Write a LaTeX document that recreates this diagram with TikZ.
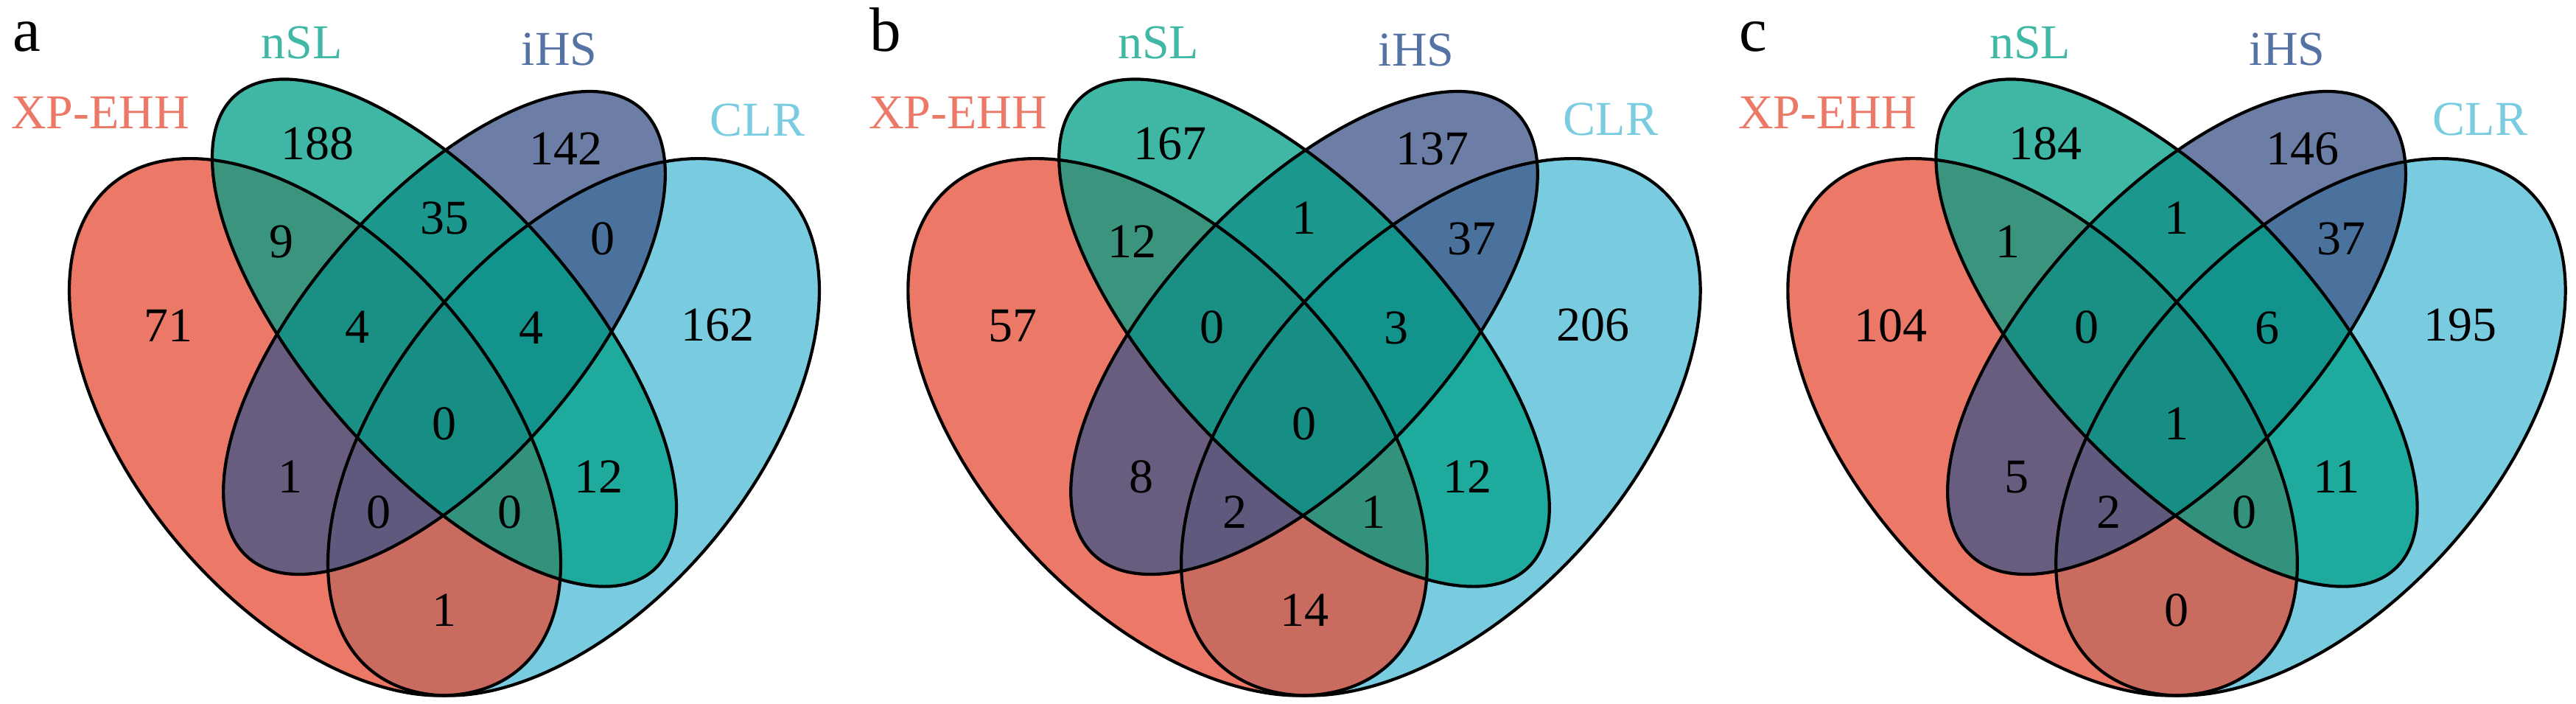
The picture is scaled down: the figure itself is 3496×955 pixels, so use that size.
\documentclass[tikz,border=0pt]{standalone}
\usepackage{fontspec}
\setmainfont{Liberation Serif}
\definecolor{npgred}{HTML}{E64B35}
\definecolor{npgteal}{HTML}{00A087}
\definecolor{npgblue}{HTML}{3C5488}
\definecolor{npgcyan}{HTML}{4DBBD5}
\definecolor{lblxp}{HTML}{EC7868}
\definecolor{lblnsl}{HTML}{40B8A5}
\definecolor{lblihs}{HTML}{5472A4}
\definecolor{lblclr}{HTML}{7ACCE0}
% ellipse given in model units (unit square, y up), mapped to picture pixels
% #1 style, #2 panel centre x, #3 horizontal scale, #4 cx, #5 cy, #6 a, #7 b, #8 rotation
\newcommand{\vennell}[8]{%
  \path[#1] plot[domain=0:359, samples=360]
    ({#2+((#4)+(#6)*cos(\x)*cos(#8)-(#7)*sin(\x)*sin(#8)-0.5)*#3},
     {1180-((#5)+(#6)*cos(\x)*sin(#8)+(#7)*sin(\x)*cos(#8))*1278}) -- cycle;}
\newcommand{\vennpanel}[3]{% #1 centre x, #2 horizontal scale, #3 prefix
  \vennell{clrfill}{#1}{#2}{0.65}{0.47}{0.35}{0.20}{45}
  \vennell{xpfill}{#1}{#2}{0.35}{0.47}{0.35}{0.20}{135}
  \vennell{ihsfill}{#1}{#2}{0.50}{0.57}{0.33}{0.15}{45}
  \vennell{nslfill}{#1}{#2}{0.50}{0.57}{0.35}{0.15}{135}
  \vennell{vennline}{#1}{#2}{0.65}{0.47}{0.35}{0.20}{45}
  \vennell{vennline}{#1}{#2}{0.35}{0.47}{0.35}{0.20}{135}
  \vennell{vennline}{#1}{#2}{0.50}{0.57}{0.33}{0.15}{45}
  \vennell{vennline}{#1}{#2}{0.50}{0.57}{0.35}{0.15}{135}
}
\begin{document}
\begin{tikzpicture}[x=1pt,y=-1pt,
  xpfill/.style={fill=npgred, fill opacity=0.75},
  nslfill/.style={fill=npgteal, fill opacity=0.75},
  ihsfill/.style={fill=npgblue, fill opacity=0.75},
  clrfill/.style={fill=npgcyan, fill opacity=0.75},
  vennline/.style={draw=black, line width=4.2pt, line join=round},
  numlbl/.style={inner sep=0pt, font=\fontsize{66}{72}\selectfont, text=black},
  setlbl/.style={inner sep=0pt, anchor=base, font=\fontsize{66}{72}\selectfont},
  panellbl/.style={inner sep=0pt, anchor=base west, font=\fontsize{85}{92}\selectfont, text=black}]
\useasboundingbox (0,0) rectangle (3496,955);
\fill[white] (0,0) rectangle (3496,955);
\vennpanel{603}{1170}{a}
\vennpanel{1770}{1236}{b}
\vennpanel{2954}{1213}{c}
% panel letters
\node[panellbl] (a-letter) at (17,70) {a};
\node[panellbl] (b-letter) at (1180,70) {b};
\node[panellbl] (c-letter) at (2360,70) {c};
% set names
\node[setlbl, text=lblxp]  (a-xp)  at (136,175) {XP-EHH};
\node[setlbl, text=lblnsl] (a-nsl) at (410,80) {nSL};
\node[setlbl, text=lblihs] (a-ihs) at (759,89) {iHS};
\node[setlbl, text=lblclr] (a-clr) at (1028,184) {CLR};
\node[setlbl, text=lblxp]  (b-xp)  at (1300,175) {XP-EHH};
\node[setlbl, text=lblnsl] (b-nsl) at (1572,80) {nSL};
\node[setlbl, text=lblihs] (b-ihs) at (1922,90) {iHS};
\node[setlbl, text=lblclr] (b-clr) at (2186,183) {CLR};
\node[setlbl, text=lblxp]  (c-xp)  at (2480,175) {XP-EHH};
\node[setlbl, text=lblnsl] (c-nsl) at (2755,80) {nSL};
\node[setlbl, text=lblihs] (c-ihs) at (3104,89) {iHS};
\node[setlbl, text=lblclr] (c-clr) at (3366,183) {CLR};
% region numbers: name / x offset in model units / y in pixels
\foreach \cx/\sx/\p/\vals in {603/1170/a/{188,142,9,35,0,71,4,4,162,0,1,12,0,0,1},
                              1770/1236/b/{167,137,12,1,37,57,0,3,206,0,8,12,2,1,14},
                              2954/1213/c/{184,146,1,1,37,104,0,6,195,1,5,11,2,0,0}}{
  \foreach \r/\dx/\yy [count=\i] in {r1/-0.147/195, r2/0.141/202, r3/-0.189/328,
      r4/0/296, r5/0.184/324, r6/-0.320/442, r7/-0.101/444, r8/0.101/445,
      r9/0.317/441, r10/0/575, r11/-0.179/647, r12/0.179/647, r13/-0.076/695,
      r14/0.076/695, r15/0/828}{
    \pgfmathsetmacro{\v}{{\vals}[\i-1]}
    \pgfmathtruncatemacro{\vi}{\v}
    \node[numlbl] (\p-\r) at (\cx+\dx*\sx,\yy) {\vi};
  }
}
\end{tikzpicture}
\end{document}
